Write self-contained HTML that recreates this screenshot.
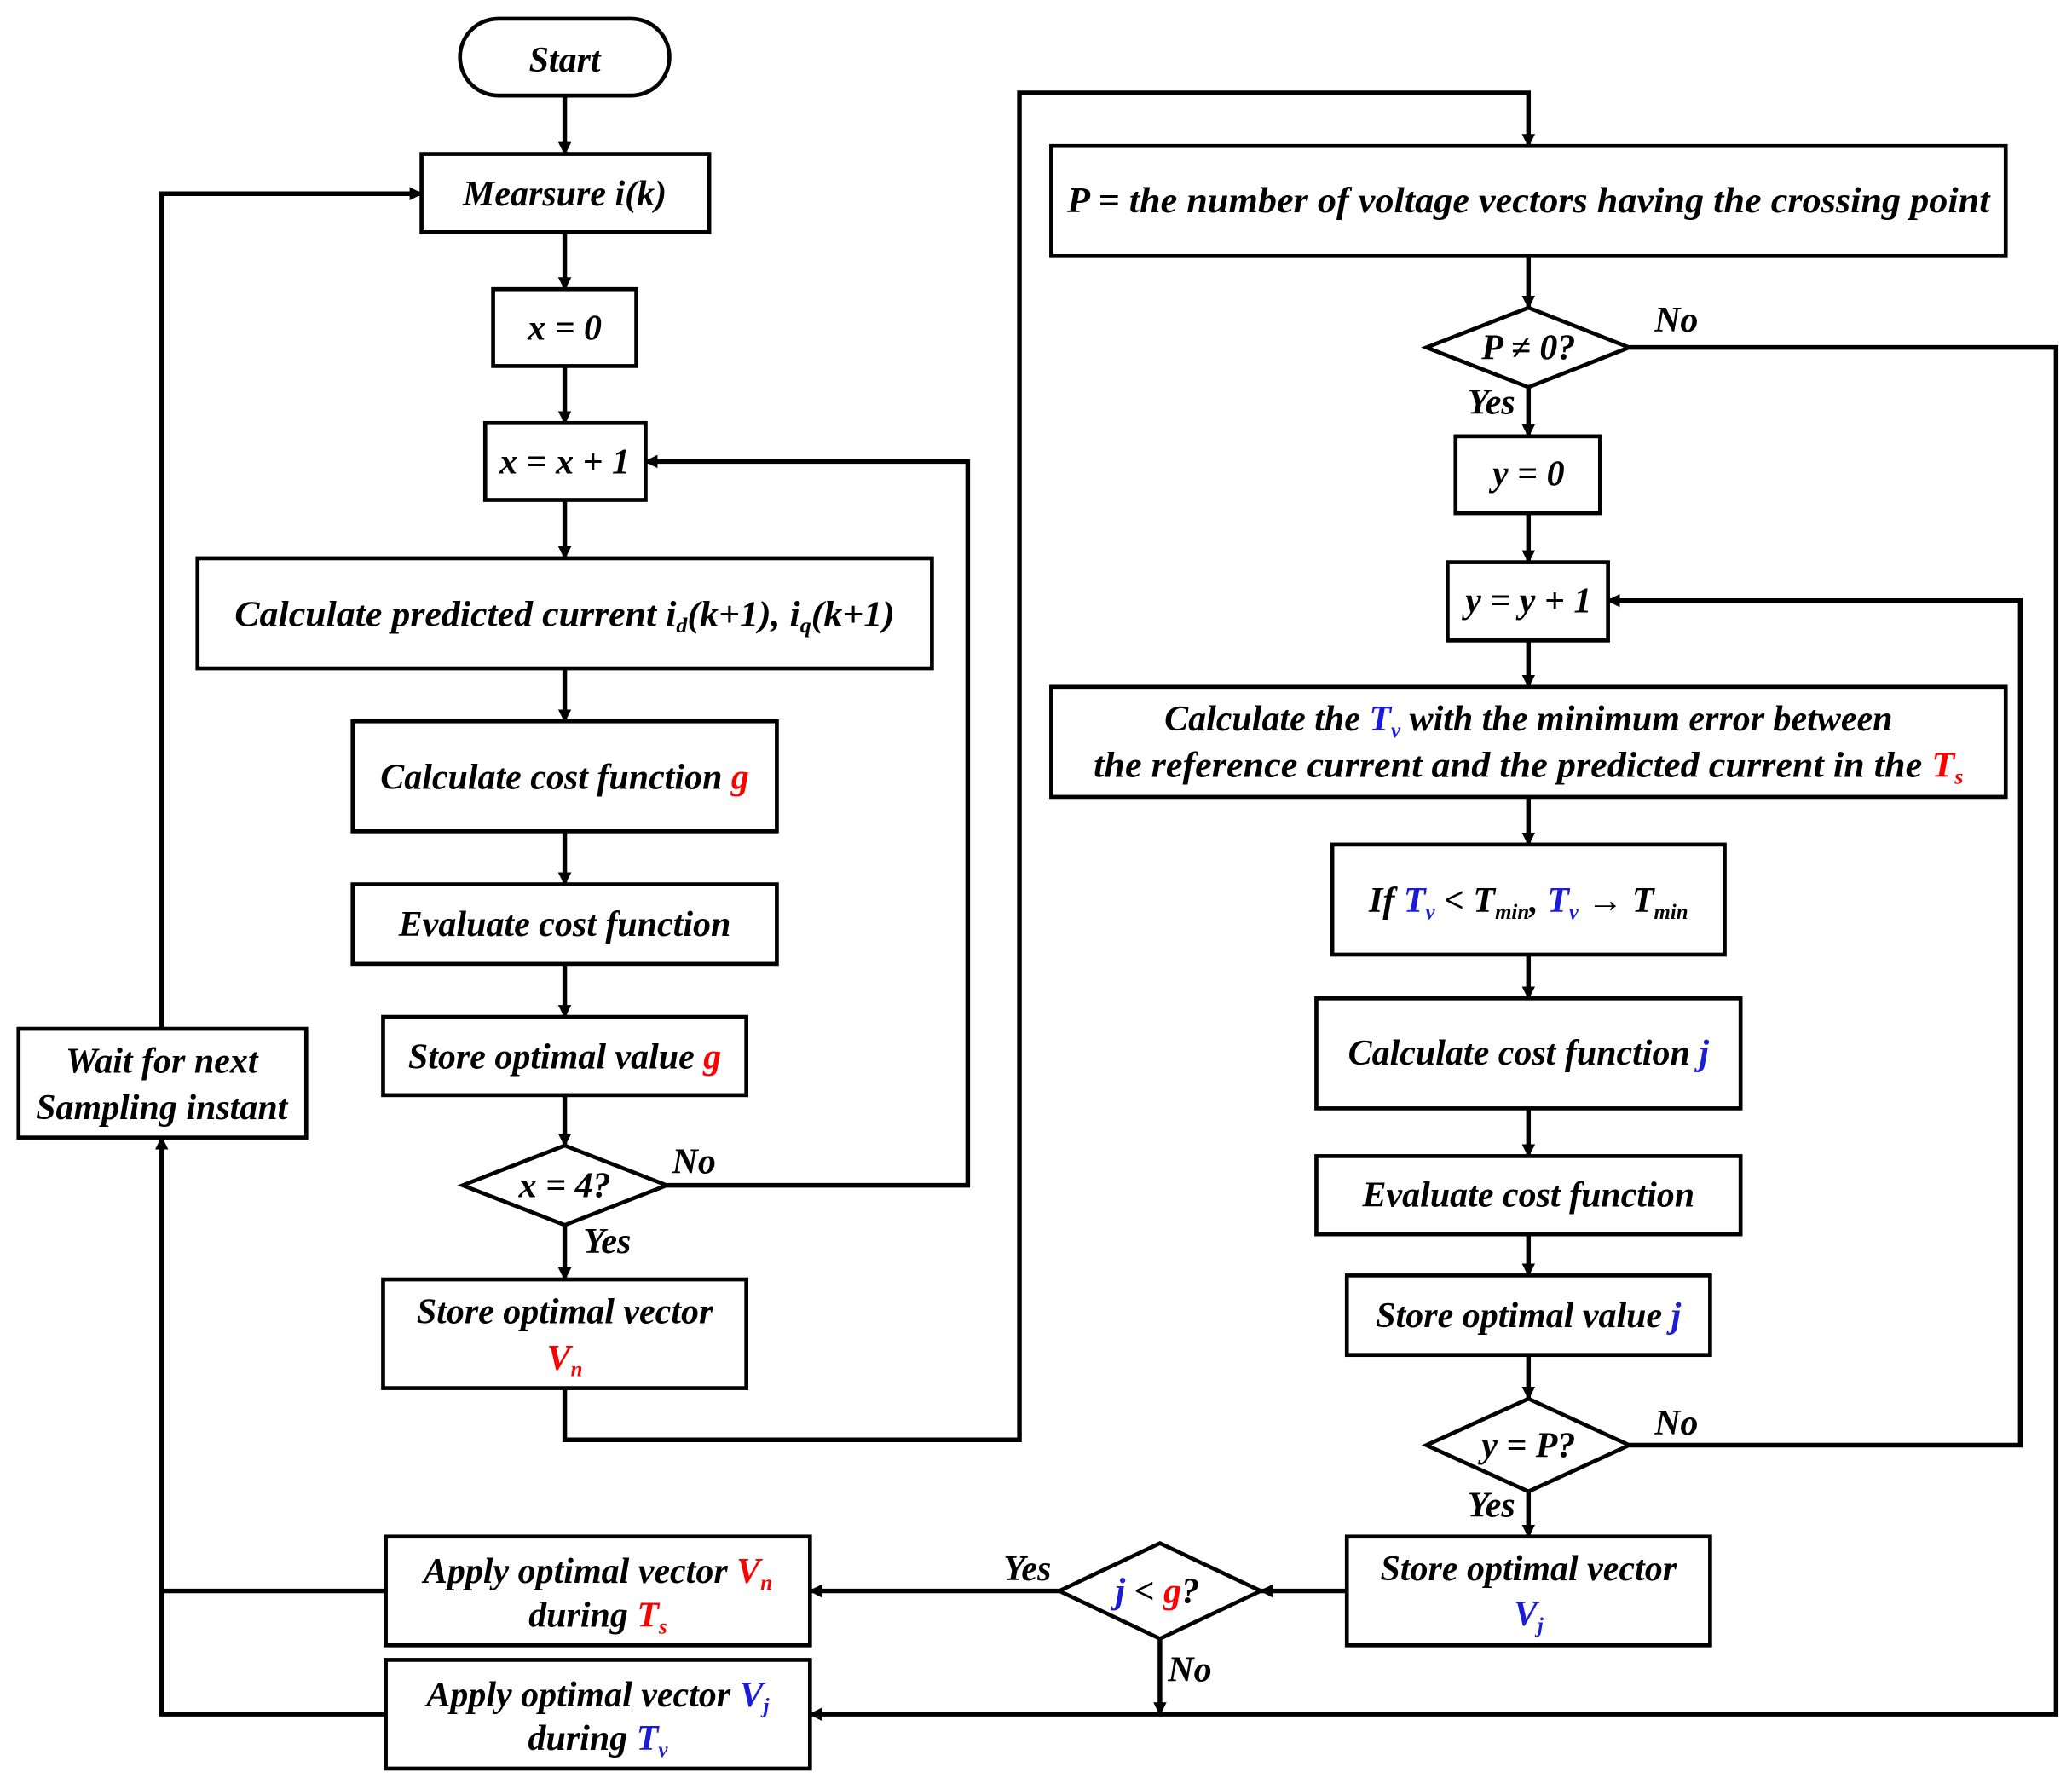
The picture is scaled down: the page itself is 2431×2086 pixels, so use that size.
<!DOCTYPE html>
<html><head><meta charset="utf-8"><style>
html,body{margin:0;padding:0;background:#fff}
svg{display:block}
text{font-family:"Liberation Serif",serif;font-weight:bold;font-style:italic;font-size:27px;fill:#000}
.r{fill:#f00}.b{fill:#1c1cd6}
</style></head><body>
<svg width="2431" height="2086" viewBox="0 0 1563 1341" xmlns="http://www.w3.org/2000/svg">
<defs><marker id="a" markerWidth="10" markerHeight="10" refX="9" refY="5" orient="auto" markerUnits="userSpaceOnUse"><path d="M0,0 L10,5 L0,10 z" fill="#000"/></marker></defs>
<g fill="#fff" stroke="#000" stroke-width="3">
<rect x="347" y="14" width="158" height="58" rx="29"/>
<rect x="318" y="116" width="217" height="59"/>
<rect x="372" y="218" width="108" height="58"/>
<rect x="366" y="319" width="121" height="58"/>
<rect x="149" y="421" width="554" height="83"/>
<rect x="266" y="544" width="320" height="83"/>
<rect x="266" y="667" width="320" height="60"/>
<rect x="289" y="767" width="274" height="59"/>
<path d="M349,894 L426,864 L503,894 L426,924 Z"/>
<rect x="289" y="965" width="274" height="82"/>
<rect x="14" y="776" width="217" height="82"/>
<rect x="291" y="1159" width="320" height="82"/>
<rect x="291" y="1252" width="320" height="82"/>
<path d="M799,1200 L875,1164 L951,1200 L875,1236 Z"/>
<rect x="793" y="110" width="720" height="83"/>
<path d="M1076,262 L1153,232 L1229,262 L1153,292 Z"/>
<rect x="1098" y="329" width="109" height="58"/>
<rect x="1092" y="424" width="121" height="59"/>
<rect x="793" y="518" width="720" height="83"/>
<rect x="1005" y="637" width="296" height="83"/>
<rect x="993" y="753" width="320" height="83"/>
<rect x="993" y="872" width="320" height="59"/>
<rect x="1016" y="962" width="274" height="60"/>
<path d="M1076,1090 L1153,1055 L1229,1090 L1153,1125 Z"/>
<rect x="1016" y="1159" width="274" height="82"/>
</g>
<g fill="none" stroke="#000" stroke-width="3.5" marker-end="url(#a)">
<path d="M426,72 V116"/><path d="M426,175 V218"/><path d="M426,276 V319"/><path d="M426,377 V421"/>
<path d="M426,504 V544"/><path d="M426,627 V667"/><path d="M426,727 V767"/><path d="M426,826 V864"/>
<path d="M426,924 V965"/>
<path d="M122,776 V146 H318"/>
<path d="M503,894 H730 V348 H487"/>
<path d="M426,1047 V1086 H769 V70 H1153 V110"/>
<path d="M1153,193 V232"/>
<path d="M1229,262 H1551 V1293 H611"/>
<path d="M1153,292 V329"/><path d="M1153,387 V424"/><path d="M1153,483 V518"/><path d="M1153,601 V637"/>
<path d="M1153,720 V753"/><path d="M1153,836 V872"/><path d="M1153,931 V962"/><path d="M1153,1022 V1055"/>
<path d="M1229,1090 H1524 V453 H1213"/>
<path d="M1153,1125 V1159"/>
<path d="M1016,1200 H951"/>
<path d="M799,1200 H611"/>
<path d="M875,1236 V1293"/>
<path d="M291,1293 H122 V858"/>
</g>
<path d="M291,1200 H122" stroke="#000" stroke-width="3.5"/>
<g text-anchor="middle">
<text x="426" y="54" font-size="32">Start</text>
<text x="426" y="155">Mearsure i(k)</text>
<text x="426" y="256">x = 0</text>
<text x="426" y="357">x = x + 1</text>
<text x="426" y="472" textLength="498" lengthAdjust="spacingAndGlyphs">Calculate predicted current i<tspan font-size="16" dy="5">d</tspan><tspan dy="-5">(k+1), i</tspan><tspan font-size="16" dy="5">q</tspan><tspan dy="-5">(k+1)</tspan></text>
<text x="426" y="595">Calculate cost function <tspan class="r">g</tspan></text>
<text x="426" y="706">Evaluate cost function</text>
<text x="426" y="806">Store optimal value <tspan class="r">g</tspan></text>
<text x="426" y="903">x = 4?</text>
<text x="426" y="998">Store optimal vector</text>
<text x="426" y="1033" class="r">V<tspan font-size="16" dy="5">n</tspan></text>
<text x="122" y="809">Wait for next</text>
<text x="122" y="844">Sampling instant</text>
<text x="451" y="1194">Apply optimal vector <tspan class="r">V</tspan><tspan class="r" font-size="16" dy="5">n</tspan></text>
<text x="451" y="1227">during <tspan class="r">T</tspan><tspan class="r" font-size="16" dy="5">s</tspan></text>
<text x="451" y="1287">Apply optimal vector <tspan class="b">V</tspan><tspan class="b" font-size="16" dy="5">j</tspan></text>
<text x="451" y="1320">during <tspan class="b">T</tspan><tspan class="b" font-size="16" dy="5">v</tspan></text>
<text x="873" y="1209"><tspan class="b">j</tspan> &lt; <tspan class="r">g</tspan>?</text>
<text x="1153" y="160" textLength="696" lengthAdjust="spacingAndGlyphs">P = the number of voltage vectors having the crossing point</text>
<text x="1153" y="271">P ≠ 0?</text>
<text x="1153" y="366">y = 0</text>
<text x="1153" y="462">y = y + 1</text>
<text x="1153" y="551">Calculate the <tspan class="b">T</tspan><tspan class="b" font-size="16" dy="5">v</tspan><tspan dy="-5"> with the minimum error between</tspan></text>
<text x="1153" y="586" textLength="656" lengthAdjust="spacingAndGlyphs">the reference current and the predicted current in the <tspan class="r">T</tspan><tspan class="r" font-size="16" dy="5">s</tspan></text>
<text x="1153" y="688">If <tspan class="b">T</tspan><tspan class="b" font-size="16" dy="5">v</tspan><tspan dy="-5"> &lt; T</tspan><tspan font-size="16" dy="5">min</tspan><tspan dy="-5">, </tspan><tspan class="b">T</tspan><tspan class="b" font-size="16" dy="5">v</tspan><tspan dy="-5"> → T</tspan><tspan font-size="16" dy="5">min</tspan></text>
<text x="1153" y="803">Calculate cost function <tspan class="b">j</tspan></text>
<text x="1153" y="910">Evaluate cost function</text>
<text x="1153" y="1001">Store optimal value <tspan class="b">j</tspan></text>
<text x="1153" y="1099">y = P?</text>
<text x="1153" y="1192">Store optimal vector</text>
<text x="1153" y="1226" class="b">V<tspan font-size="16" dy="5">j</tspan></text>
</g>
<g>
<text x="507" y="885" font-size="22">No</text>
<text x="440" y="945" font-size="22">Yes</text>
<text x="1248" y="250" font-size="22">No</text>
<text x="1107" y="312" font-size="22">Yes</text>
<text x="1248" y="1082" font-size="22">No</text>
<text x="1107" y="1144" font-size="22">Yes</text>
<text x="757" y="1192" font-size="22">Yes</text>
<text x="881" y="1268" font-size="22">No</text>
</g>
</svg>
</body></html>
